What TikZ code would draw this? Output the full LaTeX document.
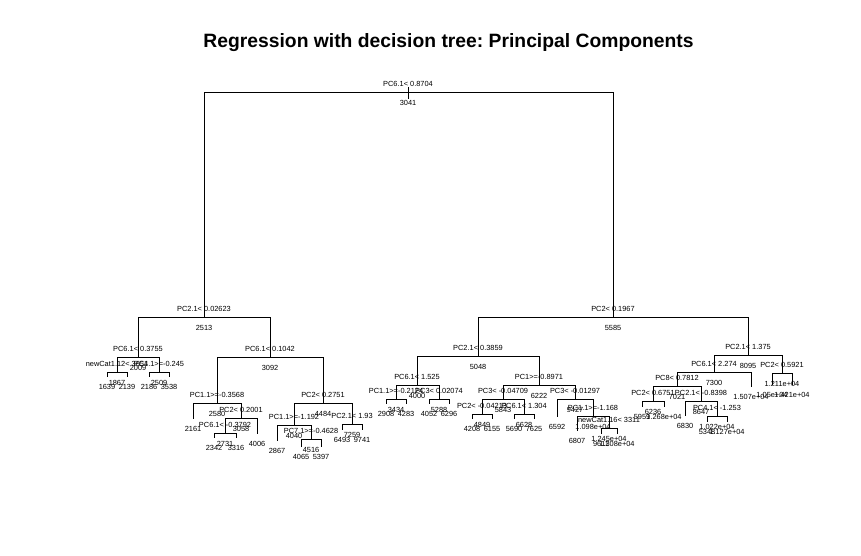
\documentclass[tikz,border=0pt]{standalone}
\usepackage{fontspec}
\setmainfont{Liberation Sans}
\frenchspacing

\begin{document}
\begin{tikzpicture}[x=1pt,y=-1pt,line width=0.9pt,
  lbl/.style={inner sep=0pt,font=\fontsize{7.4}{8}\selectfont,text height=5.3pt,text depth=0pt}]
\useasboundingbox (0,0) rectangle (861,556);
\node[inner sep=0pt,anchor=base,font=\bfseries\fontsize{19.3}{23}\selectfont] (title) at (448.5,47.5) {Regression with decision tree: Principal Components};
\foreach \n/\x/\y/\s/\v in {n1/408/92/PC6.1< 0.8704/3041, n2/204/317/PC2.1< 0.02623/2513, n3/613/317/PC2< 0.1967/5585,
  n4/138/357/PC6.1< 0.3755/2009, n5/270/357/PC6.1< 0.1042/3092, n8/117/372/newCat1.12< 3654/1867, n9/159/372/PC1.1>=-0.245/2509,
  n10/217/403/PC1.1>=-0.3568/2580, n11/323/403/PC2< 0.2751/4484, n21/241/418/PC2< 0.2001/3058, n42/225/433/PC6.1< -0.3792/2731,
  n22/294/425/PC1.1>=-1.192/4040, n23/352/424/PC2.1< 1.93/7259, n45/311/439/PC7.1>=-0.4628/4516,
  n6/478/356/PC2.1< 0.3859/5048, n7/748/355/PC2.1< 1.375/8095, n12/417/385/PC6.1< 1.525/4000, n13/539/385/PC1>=-0.8971/6222,
  n24/396/399/PC1.1>=-0.2124/3434, n25/439/399/PC3< 0.02074/5288, n26/503/399/PC3< -0.04709/5843, n27/575/399/PC3< -0.01297/9427,
  n52/482/414/PC2< -0.04213/4849, n53/524/414/PC6.1< 1.304/6628, n55/593/416/PC1.1>=-1.168/1.098e+04, n111/609/428/newCat1.16< 3311/1.245e+04,
  n14/714/372/PC6.1< 2.274/7300, n15/782/373/PC2< 0.5921/1.211e+04, n28/677/386/PC8< 0.7812/7021,
  n56/653/401/PC2< 0.6751/6236, n57/701/401/PC2.1< -0.8398/8647, n115/717/416/PC4.1< -1.253/1.022e+04} {
  \coordinate (\n) at (\x,\y);
  \node[lbl] (\n-s) at ([yshift=8pt]\n) {\s};
  \node[lbl] (\n-v) at ([yshift=-11pt]\n) {\v};
}
\foreach \n/\x/\y/\v in {n16/107/377/1639, n17/127/377/2139, n18/149/377/2186, n19/169/377/3538,
  n20/193/419/2161, n43/257/434/4006, n84/214/438/2342, n85/236/438/3316,
  n44/277/441/2867, n90/301/447/4065, n91/321/447/5397, n46/342/430/6493, n47/362/430/9741,
  n48/386/404/2908, n49/406/404/4283, n50/429/404/4052, n51/449/404/6296,
  n104/472/419/4208, n105/492/419/6155, n106/514/419/5690, n107/534/419/7625,
  n54/557/417/6592, n110/577/431/6807, n222/601/434/9611, n223/617/434/1.308e+04,
  n29/751/387/1.507e+04, n112/642/407/5959, n113/664/407/1.268e+04, n114/685/416/6830,
  n230/707/422/5348, n231/727/422/1.127e+04, n30/772/385/1.05e+04, n31/792/385/1.421e+04} {
  \coordinate (\n) at (\x,\y);
  \node[lbl] (\n-v) at ([yshift=-10pt]\n) {\v};
}
\coordinate (n1top) at (408,87);
\coordinate (n1bot) at (408,99);
\draw (n1top) -- (n1bot);
\foreach \p/\c in {n1/n2, n1/n3, n2/n4, n2/n5, n4/n8, n4/n9, n8/n16, n8/n17, n9/n18, n9/n19,
  n5/n10, n5/n11, n10/n20, n10/n21, n21/n42, n21/n43, n42/n84, n42/n85,
  n11/n22, n11/n23, n22/n44, n22/n45, n45/n90, n45/n91, n23/n46, n23/n47,
  n3/n6, n3/n7, n6/n12, n6/n13, n12/n24, n12/n25, n24/n48, n24/n49, n25/n50, n25/n51,
  n13/n26, n13/n27, n26/n52, n26/n53, n52/n104, n52/n105, n53/n106, n53/n107,
  n27/n54, n27/n55, n55/n110, n55/n111, n111/n222, n111/n223,
  n7/n14, n7/n15, n14/n28, n14/n29, n28/n56, n28/n57, n56/n112, n56/n113,
  n57/n114, n57/n115, n115/n230, n115/n231, n15/n30, n15/n31}
  \draw (\p) -| (\c);
\end{tikzpicture}
\end{document}
